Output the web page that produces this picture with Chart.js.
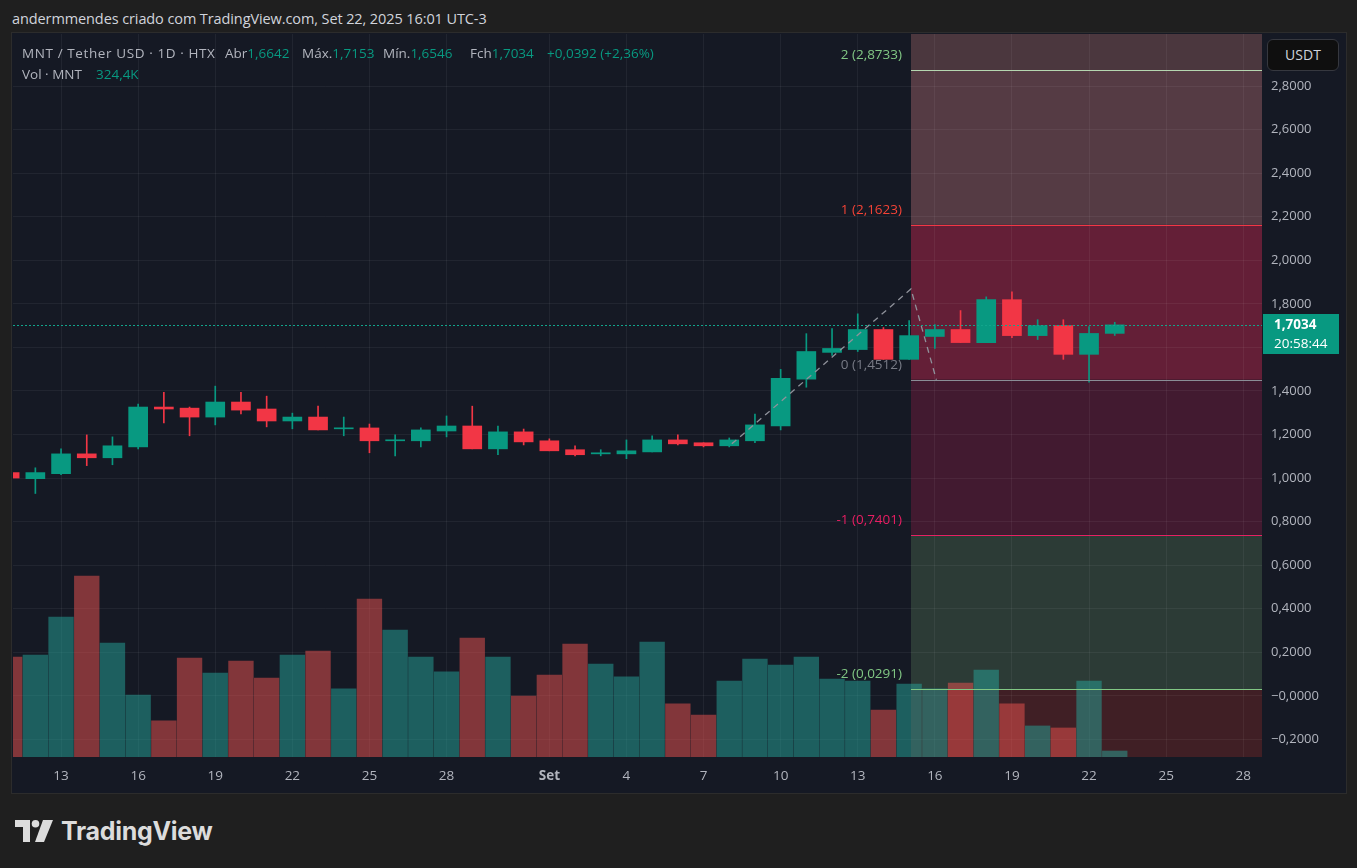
<!DOCTYPE html>
<html>
<head>
<meta charset="utf-8">
<script src="https://cdn.jsdelivr.net/npm/chart.js@4.4.0/dist/chart.umd.min.js"></script>
<style>
  html, body { margin: 0; padding: 0; width: 1357px; height: 868px; overflow: hidden; background: #1f1f1f; font-family: "Open Sans", Roboto, sans-serif; }
  #title { position: absolute; left: 12px; top: 9px; color: #d1d4dc; font-size: 14.5px; letter-spacing: -0.1px; white-space: nowrap; }
  #panel { position: absolute; left: 12px; top: 33px; width: 1334px; height: 760px; background: #151924; box-shadow: 0 0 0 1px #2c2c2c; }
  #chart { position: absolute; left: 0; top: 0; }
  .lg { position: absolute; font-size: 13.5px; white-space: nowrap; color: #b2b5be; line-height: 16px; }
  .up { color: #089981; }
  #usdt { position: absolute; left: 1255px; top: 6px; width: 70px; height: 30px; border: 1px solid #36383f; border-radius: 6px; background: #0f0f0f; color: #d1d4dc; font-size: 14px; line-height: 30px; text-align: center; }
  #logo { position: absolute; left: 15px; top: 818px; height: 26px; display: flex; align-items: center; color: #dcdcdc; }
  #logo span { font-size: 25px; font-weight: 700; margin-left: 8px; letter-spacing: -0.3px; font-family: Inter, Roboto, sans-serif; }
</style>
</head>
<body>
<div id="title">andermmendes criado com TradingView.com, Set 22, 2025 16:01 UTC-3</div>
<div id="panel">
  <canvas id="chart" width="1334" height="760"></canvas>
  <div class="lg" style="left:10px;top:12px;letter-spacing:0.6px">MNT / Tether USD · 1D · HTX</div>
  <div class="lg" style="left:213px;top:12px">Abr<span class="up">1,6642</span></div>
  <div class="lg" style="left:290px;top:12px">Máx.<span class="up">1,7153</span></div>
  <div class="lg" style="left:371px;top:12px">Mín.<span class="up">1,6546</span></div>
  <div class="lg" style="left:458px;top:12px">Fch<span class="up">1,7034</span></div>
  <div class="lg up" style="left:535px;top:12px">+0,0392 (+2,36%)</div>
  <div class="lg" style="left:10px;top:33px">Vol · MNT</div>
  <div class="lg up" style="left:84px;top:33px">324,4K</div>
  <div id="usdt">USDT</div>
</div>
<div id="logo">
  <svg width="38" height="22" viewBox="0 0 38 22"><path fill="#dcdcdc" d="M0 0h15v22H8V7H0z"/><circle fill="#dcdcdc" cx="20.5" cy="3.8" r="3.8"/><path fill="#dcdcdc" d="M28 0h10l-9 22h-9z"/></svg>
  <span>TradingView</span>
</div>
<script>
// dias: 11 ago .. 23 set 2025 (indice = posicao no eixo x)
const dates = ['08-11','08-12','08-13','08-14','08-15','08-16','08-17','08-18','08-19','08-20',
  '08-21','08-22','08-23','08-24','08-25','08-26','08-27','08-28','08-29','08-30','08-31',
  '09-01','09-02','09-03','09-04','09-05','09-06','09-07','09-08','09-09','09-10',
  '09-11','09-12','09-13','09-14','09-15','09-16','09-17','09-18','09-19','09-20',
  '09-21','09-22','09-23'];
const opens  = [1.025,0.997,1.020,1.111,1.093,1.143,1.326,1.321,1.280,1.349,
  1.317,1.262,1.280,1.226,1.230,1.171,1.171,1.216,1.239,1.134,1.212,
  1.171,1.130,1.111,1.111,1.120,1.175,1.162,1.148,1.171,1.239,
  1.454,1.577,1.590,1.682,1.545,1.650,1.682,1.622,1.819,1.654,
  1.700,1.568,1.6642];
const highs  = [1.035,1.047,1.134,1.198,1.189,1.340,1.394,1.326,1.422,1.394,
  1.376,1.298,1.330,1.280,1.248,1.198,1.230,1.285,1.330,1.239,1.225,
  1.180,1.148,1.130,1.175,1.194,1.198,1.162,1.184,1.294,1.499,
  1.663,1.686,1.754,1.691,1.723,1.705,1.769,1.832,1.855,1.727,
  1.727,1.695,1.7153];
const lows   = [0.990,0.929,1.016,1.057,1.061,1.134,1.253,1.194,1.244,1.294,
  1.235,1.226,1.221,1.194,1.116,1.102,1.143,1.189,1.134,1.107,1.152,
  1.125,1.102,1.102,1.089,1.120,1.152,1.143,1.143,1.162,1.221,
  1.417,1.563,1.581,1.545,1.545,1.595,1.622,1.622,1.645,1.636,
  1.545,1.440,1.6546];
const closes = [1.000,1.025,1.111,1.093,1.148,1.326,1.317,1.280,1.349,1.312,
  1.262,1.280,1.221,1.230,1.171,1.175,1.221,1.239,1.134,1.212,1.166,
  1.125,1.107,1.116,1.125,1.175,1.157,1.148,1.175,1.244,1.458,
  1.581,1.595,1.682,1.545,1.654,1.682,1.622,1.819,1.654,1.700,
  1.568,1.664,1.7034];
// volume em milhares de MNT
const volumes = [5400,5510,7570,9790,6160,3350,1950,5350,4540,5190,
  4270,5510,5730,3680,8540,6870,5410,4600,6430,5410,3300,
  4430,6110,5030,4330,6220,2870,2270,4110,5300,4970,
  5410,4220,4110,2540,3950,3680,4000,4700,2870,1680,
  1570,4110,324.4];

const tickDays = [2,5,8,11,14,17,21,24,27,30,33,36,39,42,45,48];
const tickLabels = ['13','16','19','22','25','28','Set','4','7','10','13','16','19','22','25','28'];
const priceTicks = [-0.2,0,0.2,0.4,0.6,0.8,1.0,1.2,1.4,1.6,1.8,2.0,2.2,2.4,2.6,2.8];
const priceTickLabels = ['\u22120,2000','\u22120,0000','0,2000','0,4000','0,6000','0,8000','1,0000','1,2000',
  '1,4000','1,6000','1,8000','2,0000','2,2000','2,4000','2,6000','2,8000'];

// extensao de fibonacci (tres pontos da ferramenta) e niveis
const trendPoints = [{x: 28.1, y: 1.157}, {x: 35.07, y: 1.868}, {x: 36.06, y: 1.4512}];
const fibPrices = [3.3129, 2.8733, 2.1623, 1.4512, 0.7401, 0.0291];
const fibLabels = [null, '2 (2,8733)', '1 (2,1623)', '0 (1,4512)', '-1 (0,7401)', '-2 (0,0291)'];
const lastPrice = 1.7034;
const countdown = '20:58:44';

const UP = '#089981', DOWN = '#f23645';
const bandColors = ['#4b373e', '#553b44', '#641f37', '#421a30', '#2c3b36', '#401f25'];
const lineColors = [null, '#b5d6b0', '#f23645', '#8a8d96', '#e91e63', '#81c784'];
const labelColors = [null, '#81c784', '#f44336', '#787b86', '#e91e63', '#81c784'];
const FONT = '"Open Sans", Roboto, sans-serif';

const isUp = opens.map((o, i) => closes[i] >= o);
const bodies = dates.map((d, i) => ({x: i, y: [Math.min(opens[i], closes[i]), Math.max(opens[i], closes[i])]}));
const wicks = dates.map((d, i) => ({x: i, y: [lows[i], highs[i]]}));
const vols = dates.map((d, i) => ({x: i, y: volumes[i]}));

const fibPlugin = {
  id: 'fib',
  beforeDraw(chart) {
    const {ctx, chartArea: a, scales: {x, y}} = chart;
    const x0 = Math.round(x.getPixelForValue(trendPoints[1].x));
    ctx.save();
    ctx.beginPath();
    ctx.rect(a.left, a.top, a.right - a.left, a.bottom - a.top);
    ctx.clip();
    const bounds = fibPrices.concat([y.min]);
    for (let i = 0; i < bandColors.length; i++) {
      const t = y.getPixelForValue(bounds[i]);
      const b = y.getPixelForValue(bounds[i + 1]);
      ctx.fillStyle = bandColors[i];
      ctx.fillRect(x0, t, a.right - x0, b - t);
    }
    ctx.restore();
  },
  afterDatasetsDraw(chart) {
    const {ctx, chartArea: a, scales: {x, y}} = chart;
    const x0 = Math.round(x.getPixelForValue(trendPoints[1].x));
    ctx.save();
    ctx.font = '13.5px ' + FONT;
    ctx.textAlign = 'right';
    ctx.textBaseline = 'middle';
    for (let i = 1; i < fibPrices.length; i++) {
      const py = Math.round(y.getPixelForValue(fibPrices[i])) + 0.5;
      ctx.strokeStyle = lineColors[i];
      ctx.lineWidth = 1;
      ctx.beginPath();
      ctx.moveTo(x0, py);
      ctx.lineTo(a.right, py);
      ctx.stroke();
      ctx.fillStyle = labelColors[i];
      ctx.fillText(fibLabels[i], x0 - 9, py - 15);
    }
    // linha pontilhada do ultimo preco
    const lp = Math.round(y.getPixelForValue(lastPrice)) + 0.5;
    ctx.strokeStyle = '#12a58c';
    ctx.setLineDash([2, 2]);
    ctx.beginPath();
    ctx.moveTo(a.left, lp);
    ctx.lineTo(a.right, lp);
    ctx.stroke();
    ctx.restore();
  },
  afterDraw(chart) {
    const {ctx, chartArea: a, scales: {y}} = chart;
    const lp = Math.round(y.getPixelForValue(lastPrice));
    ctx.save();
    ctx.fillStyle = UP;
    ctx.fillRect(a.right + 1, lp - 11, 76, 40);
    ctx.fillStyle = '#ffffff';
    ctx.textBaseline = 'middle';
    ctx.textAlign = 'left';
    ctx.font = 'bold 13.5px ' + FONT;
    ctx.fillText(lastPrice.toFixed(4).replace('.', ','), a.right + 12, lp);
    ctx.font = '13.5px ' + FONT;
    ctx.fillText(countdown, a.right + 12, lp + 19);
    ctx.restore();
  }
};

const grid = 'rgba(255,255,255,0.055)';

new Chart(document.getElementById('chart'), {
  data: {
    datasets: [
      {type: 'line', data: trendPoints, borderColor: '#8f929b', borderWidth: 1.3,
        borderDash: [6, 5], pointRadius: 0, order: 0},
      {type: 'bar', data: bodies, backgroundColor: isUp.map(u => u ? UP : DOWN), barThickness: 19,
        minBarLength: 1, grouped: false, borderSkipped: false, order: 1},
      {type: 'bar', data: wicks, backgroundColor: isUp.map(u => u ? UP : DOWN), barThickness: 1,
        grouped: false, borderSkipped: false, order: 2},
      {type: 'bar', data: vols, yAxisID: 'yVol', grouped: false, barThickness: 24.7, order: 3,
        backgroundColor: isUp.map(u => u ? 'rgba(38,166,154,0.5)' : 'rgba(239,83,80,0.5)')}
    ]
  },
  options: {
    responsive: false,
    animation: false,
    events: [],
    layout: {padding: {left: 1, top: 1, right: 0, bottom: 0}},
    plugins: {legend: {display: false}, tooltip: {enabled: false}},
    scales: {
      x: {
        type: 'linear', min: 0.13, max: 48.73, offset: false,
        grid: {color: grid, drawTicks: false, offset: false},
        border: {display: false},
        afterBuildTicks: s => { s.ticks = tickDays.map(v => ({value: v})); },
        afterFit: s => { s.height = 36; s.paddingLeft = 0; s.paddingRight = 0; },
        ticks: {
          autoSkip: false, maxRotation: 0, padding: 11, color: '#b2b5be',
          font: c => ({family: FONT, size: 13.5, weight: tickLabels[c.index] === 'Set' ? 'bold' : 'normal'}),
          callback: (v, i) => tickLabels[i]
        }
      },
      y: {
        type: 'linear', position: 'right', min: -0.281, max: 3.039,
        grid: {color: grid, drawTicks: false},
        border: {display: false},
        afterBuildTicks: s => { s.ticks = priceTicks.map(v => ({value: v})); },
        afterFit: s => { s.width = 84; s.paddingTop = 0; s.paddingBottom = 0; },
        ticks: {
          padding: 9, color: '#b2b5be', font: {family: FONT, size: 13},
          callback: (v, i) => priceTickLabels[i]
        }
      },
      yVol: {type: 'linear', display: false, min: 0, max: 39100}
    }
  },
  plugins: [fibPlugin]
});
</script>
</body>
</html>
